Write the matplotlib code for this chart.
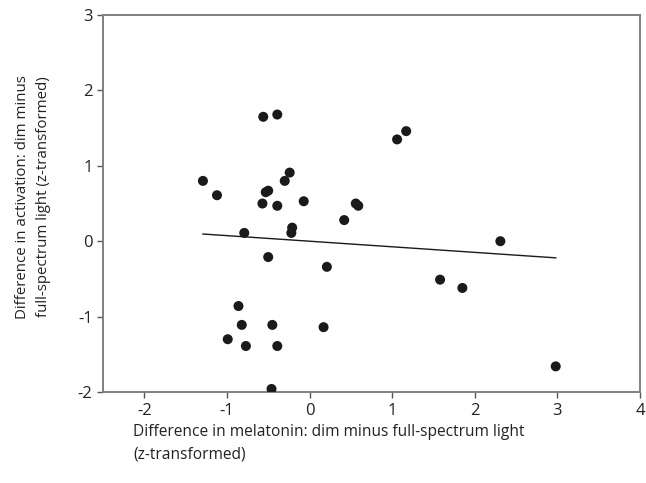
import numpy as np
import matplotlib
matplotlib.use('Agg')
import matplotlib.pyplot as plt

plt.rcParams['font.family'] = ['Open Sans', 'DejaVu Sans']

# difference in melatonin (x) and activation (y), z-transformed
melatonin = [-0.56, -0.39, -1.29, -1.12, -0.24, -0.30, -0.53, -0.50, -0.57,
             -0.39, -0.07, 0.42, 0.56, 0.59, -0.79, -0.21, -0.22,
             1.06, 1.17, 2.31, 0.21, 1.58, 1.85, 2.98,
             -0.50, -0.86, -0.82, -0.45, 0.17, -0.99, -0.77, -0.39, -0.46]
activation = [1.65, 1.68, 0.80, 0.61, 0.91, 0.80, 0.65, 0.67, 0.50,
              0.47, 0.53, 0.28, 0.50, 0.47, 0.11, 0.18, 0.11,
              1.35, 1.46, 0.00, -0.34, -0.51, -0.62, -1.66,
              -0.21, -0.86, -1.11, -1.11, -1.14, -1.30, -1.39, -1.39, -1.96]

# regression line
fit_slope = -0.074
fit_intercept = 0.0

xticks = [-2, -1, 0, 1, 2, 3, 4]
yticks = [-2, -1, 0, 1, 2, 3]

fig = plt.figure(figsize=(6.46, 4.83), dpi=100)
ax = fig.add_axes([0.1594, 0.1884, 0.8313, 0.7805])

ax.scatter(melatonin, activation, s=52, color='#1a1a1a', edgecolors='none', zorder=3)
xs = np.array([min(melatonin), max(melatonin)])
ax.plot(xs, fit_intercept + fit_slope * xs, color='#1a1a1a', lw=1.0)

ax.set_xlim(-2.5, 4)
ax.set_ylim(-2, 3)
ax.set_xticks(xticks)
ax.set_yticks(yticks)
ax.set_xticklabels([str(t) for t in xticks])
ax.set_yticklabels([str(t) for t in yticks])
ax.tick_params(direction='out', length=4, width=1, color='#555555',
               labelsize=12, labelcolor='#222222')
ax.tick_params(axis='x', pad=4)

for sp in ax.spines.values():
    sp.set_color('#808080')
    sp.set_linewidth(1.4)

fig.text(33 / 646, 1 - 197 / 483,
         'Difference in activation: dim minus\nfull-spectrum light (z-transformed)',
         fontsize=10.8, color='#222222', rotation=90, ha='center', va='center',
         multialignment='center', linespacing=1.55)
fig.text(133 / 646, 1 - 424 / 483,
         'Difference in melatonin: dim minus full-spectrum light\n(z-transformed)',
         fontsize=11.2, color='#222222', ha='left', va='top', linespacing=1.55)

fig.savefig('out.png', dpi=100)
